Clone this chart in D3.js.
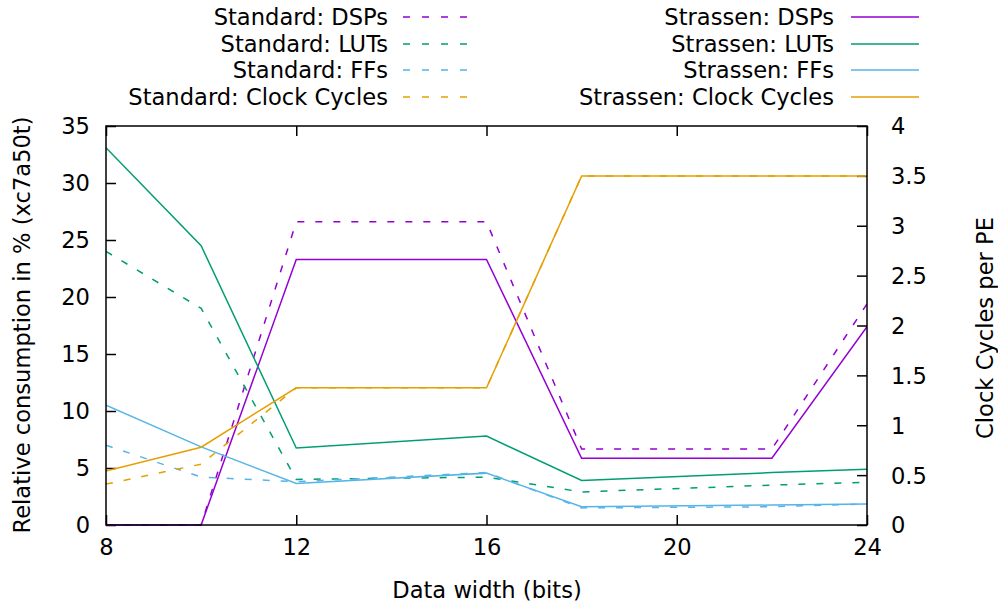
<!DOCTYPE html>
<html><head><meta charset="utf-8">
<script src="https://cdn.jsdelivr.net/npm/d3@7"></script>
<style>body{margin:0;background:#fff}text{font-family:"DejaVu Sans",sans-serif}</style>
</head><body><svg id="c" width="998" height="605"></svg>
<script>
const widths = [8, 10, 12, 16, 18, 22, 24];
const stdDSPs = [0, 0, 26.6, 26.6, 6.67, 6.67, 19.4];
const stdLUTs = [24.0, 19.0, 4.0, 4.2, 2.9, 3.5, 3.75];
const stdFFs = [7.0, 4.2, 3.8, 4.6, 1.5, 1.6, 1.85];
const stdCycles = [0.41, 0.61, 1.375, 1.375, 3.5, 3.5, 3.5];
const strDSPs = [0, 0, 23.3, 23.3, 5.85, 5.85, 17.4];
const strLUTs = [33.1, 24.5, 6.75, 7.8, 3.9, 4.6, 4.9];
const strFFs = [10.5, 6.85, 3.65, 4.55, 1.6, 1.75, 1.85];
const strCycles = [0.54, 0.78, 1.375, 1.375, 3.5, 3.5, 3.5];
const xTicks = [8, 12, 16, 20, 24];
const yTicks = [0, 5, 10, 15, 20, 25, 30, 35];
const y2Ticks = [0, 0.5, 1, 1.5, 2, 2.5, 3, 3.5, 4];

const colors = {DSPs: "#9400d3", LUTs: "#009e73", FFs: "#56b4e9", Cycles: "#e69f00"};
const series = [
  {name: "Standard: DSPs", vals: stdDSPs, c: colors.DSPs, dash: true, axis: 1},
  {name: "Standard: LUTs", vals: stdLUTs, c: colors.LUTs, dash: true, axis: 1},
  {name: "Standard: FFs", vals: stdFFs, c: colors.FFs, dash: true, axis: 1},
  {name: "Standard: Clock Cycles", vals: stdCycles, c: colors.Cycles, dash: true, axis: 2},
  {name: "Strassen: DSPs", vals: strDSPs, c: colors.DSPs, dash: false, axis: 1},
  {name: "Strassen: LUTs", vals: strLUTs, c: colors.LUTs, dash: false, axis: 1},
  {name: "Strassen: FFs", vals: strFFs, c: colors.FFs, dash: false, axis: 1},
  {name: "Strassen: Clock Cycles", vals: strCycles, c: colors.Cycles, dash: false, axis: 2}
];

const L = 106, R = 867, T = 126, B = 525;
const svg = d3.select("#c");
const x = d3.scaleLinear().domain([8, 24]).range([L, R]);
const y = d3.scaleLinear().domain([0, 35]).range([B, T]);
const y2 = d3.scaleLinear().domain([0, 4]).range([B, T]);
const fs = 22.6;

// axes
const gx = svg.append("g").attr("transform", `translate(0,${B})`)
  .call(d3.axisBottom(x).tickValues(xTicks).tickSize(-10).tickPadding(14).tickFormat(d3.format("d")));
const gxt = svg.append("g").attr("transform", `translate(0,${T})`)
  .call(d3.axisTop(x).tickValues(xTicks).tickSize(-10).tickFormat(""));
const gy = svg.append("g").attr("transform", `translate(${L},0)`)
  .call(d3.axisLeft(y).tickValues(yTicks).tickSize(-10).tickPadding(16).tickFormat(d3.format("d")));
const gy2 = svg.append("g").attr("transform", `translate(${R},0)`)
  .call(d3.axisRight(y2).tickValues(y2Ticks).tickSize(-10).tickPadding(24).tickFormat(d => d));
[gx, gxt, gy, gy2].forEach(g => {
  g.select(".domain").remove();
  g.selectAll("line").attr("stroke", "#000").attr("stroke-width", 1.5);
  g.selectAll("text").attr("font-size", fs).attr("fill", "#000").style("font-family", "DejaVu Sans");
});
gy.selectAll("text").attr("dy", "0.35em");
gy2.selectAll("text").attr("dy", "0.35em");

// lines
svg.append("clipPath").attr("id", "pc").append("rect")
  .attr("x", L).attr("y", T - 2).attr("width", R - L).attr("height", B - T + 4);
series.forEach(s => {
  const ys = s.axis === 1 ? y : y2;
  const line = d3.line().x((d, i) => x(widths[i])).y(d => ys(d));
  svg.append("path").datum(s.vals).attr("d", line).attr("fill", "none")
    .attr("stroke", s.c).attr("stroke-width", 1.5)
    .attr("stroke-dasharray", s.dash ? "7,11" : null)
    .attr("clip-path", "url(#pc)");
});

// frame
svg.append("rect").attr("x", L).attr("y", T).attr("width", R - L).attr("height", B - T)
  .attr("fill", "none").attr("stroke", "#000").attr("stroke-width", 1.5);

// axis titles
svg.append("text").attr("x", 487).attr("y", 598).attr("text-anchor", "middle")
  .attr("font-size", fs).text("Data width (bits)");
svg.append("text").attr("transform", "translate(30,325) rotate(-90)").attr("text-anchor", "middle")
  .attr("font-size", fs).text("Relative consumption in % (xc7a50t)");
svg.append("text").attr("transform", "translate(993,328) rotate(-90)").attr("text-anchor", "middle")
  .attr("font-size", fs).text("Clock Cycles per PE");

// legend
const rowsY = [17, 44, 70, 97];
series.forEach((s, i) => {
  const col = i < 4 ? 0 : 1;
  const r = i % 4;
  const tx = col === 0 ? 388 : 834;
  const lx0 = col === 0 ? 403 : 851;
  const lx1 = col === 0 ? 467 : 919;
  svg.append("text").attr("x", tx).attr("y", rowsY[r]).attr("dy", "0.35em")
    .attr("text-anchor", "end").attr("font-size", fs).text(s.name);
  svg.append("line").attr("x1", lx0).attr("x2", lx1).attr("y1", rowsY[r]).attr("y2", rowsY[r])
    .attr("stroke", s.c).attr("stroke-width", 1.5)
    .attr("stroke-dasharray", s.dash ? "7,12" : null);
});
</script></body></html>
